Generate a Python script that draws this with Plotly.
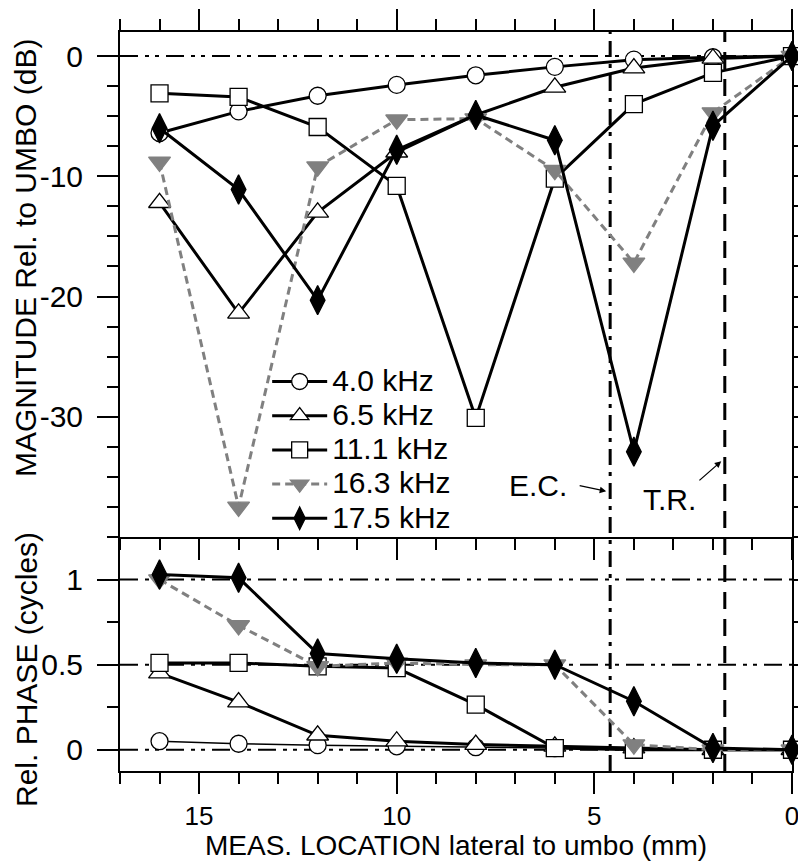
import plotly.graph_objects as go

# ---- data ----
loc_mm = [16, 14, 12, 10, 8, 6, 4, 2, 0]
freq_labels = ["4.0 kHz", "6.5 kHz", "11.1 kHz", "16.3 kHz", "17.5 kHz"]

mag_4_0 = [-6.4, -4.6, -3.3, -2.4, -1.6, -0.9, -0.3, -0.1, 0.0]
mag_6_5 = [-12.2, -21.4, -13.0, -8.0, -4.9, -2.6, -1.0, -0.2, 0.0]
mag_11_1 = [-3.1, -3.4, -5.9, -10.8, -30.1, -10.2, -4.0, -1.4, 0.0]
mag_16_3 = [-8.8, -37.5, -9.2, -5.3, -5.2, -9.5, -17.2, -4.7, 0.0]
mag_17_5 = [-6.0, -11.1, -20.3, -7.8, -4.9, -7.0, -32.9, -5.8, 0.0]

ph_4_0 = [0.05, 0.035, 0.027, 0.02, 0.015, 0.01, 0.005, 0.0, 0.0]
ph_6_5 = [0.45, 0.28, 0.085, 0.05, 0.03, 0.02, 0.01, 0.0, 0.0]
ph_11_1 = [0.51, 0.51, 0.49, 0.48, 0.265, 0.01, 0.0, 0.0, 0.0]
ph_16_3 = [1.0, 0.73, 0.49, 0.51, 0.50, 0.50, 0.03, 0.0, 0.0]
ph_17_5 = [1.03, 1.01, 0.565, 0.535, 0.51, 0.50, 0.285, 0.01, 0.0]

ec_mm = 4.6
tr_mm = 1.7

mag_ticks = [0, -10, -20, -30]
mag_ticktext = ["0", "-10", "-20", "-30"]
ph_ticks = [0, 0.5, 1]
ph_ticktext = ["0", "0.5", "1"]
x_ticks = [0, 5, 10, 15]

FONT = "Liberation Sans, Arial, sans-serif"
FS = 30
FSX = 26
GRAY = "#808080"

styles = [
    dict(symbol="circle", color="white", lc="black", dash="solid", size=17, lw_ph=1.5),
    dict(symbol="triangle-up", color="white", lc="black", dash="solid", size=19, lw_ph=3),
    dict(symbol="square", color="white", lc="black", dash="solid", size=17, lw_ph=3),
    dict(symbol="triangle-down", color=GRAY, lc=GRAY, dash="8px,5px", size=19, lw_ph=3),
    dict(symbol="diamond-tall", color="black", lc="black", dash="solid", size=21, lw_ph=3),
]
mags = [mag_4_0, mag_6_5, mag_11_1, mag_16_3, mag_17_5]
phs = [ph_4_0, ph_6_5, ph_11_1, ph_16_3, ph_17_5]

fig = go.Figure()

for lab, st, m in zip(freq_labels, styles, mags):
    fig.add_trace(go.Scatter(
        x=loc_mm, y=m, mode="lines+markers",
        name='<span style="font-size:%dpx">%s</span>' % (FS, lab),
        line=dict(color=st["lc"], width=3, dash=st["dash"]),
        marker=dict(symbol=st["symbol"], size=st["size"], color=st["color"],
                    line=dict(color="black" if st["color"] == "white" else st["color"], width=1.3)),
        xaxis="x", yaxis="y", cliponaxis=False,
    ))

for lab, st, p in zip(freq_labels, styles, phs):
    fig.add_trace(go.Scatter(
        x=loc_mm, y=p, mode="lines+markers", name=lab, showlegend=False,
        line=dict(color=st["lc"], width=st["lw_ph"], dash=st["dash"]),
        marker=dict(symbol=st["symbol"], size=st["size"], color=st["color"],
                    line=dict(color="black" if st["color"] == "white" else st["color"], width=1.3)),
        xaxis="x2", yaxis="y2", cliponaxis=False,
    ))

split = (763 - 529) / 739.0

axcommon = dict(showgrid=False, zeroline=False, showline=True, linecolor="black",
                linewidth=2, ticks="outside", tickcolor="black", tickwidth=2, ticklen=21,
                tickfont=dict(family=FONT, size=FS, color="black"))

fig.update_layout(
    width=806, height=862,
    margin=dict(l=112, r=22, t=24, b=99, autoexpand=False),
    paper_bgcolor="white", plot_bgcolor="white",
    font=dict(family=FONT, size=FS, color="black"),
    xaxis=dict(**axcommon, domain=[0, 1], range=[17, 0], anchor="y",
               tickmode="array", tickvals=x_ticks, showticklabels=False,
               mirror="allticks",
               minor=dict(dtick=1, tick0=0, ticks="outside", ticklen=11, tickcolor="black", tickwidth=2)),
    yaxis=dict(**axcommon, domain=[split, 1], range=[-40, 2], anchor="x",
               tickmode="array", tickvals=mag_ticks, ticktext=mag_ticktext,
               mirror="allticks", ticklabelstandoff=8,
               minor=dict(dtick=2.5, tick0=0, ticks="outside", ticklen=11, tickcolor="black", tickwidth=2)),
    xaxis2=dict(**{k: v for k, v in axcommon.items() if k != "tickfont"},
                tickfont=dict(family=FONT, size=FSX, color="black"),
                domain=[0, 1], range=[17, 0], anchor="y2",
                tickmode="array", tickvals=x_ticks, mirror=False, ticklabelstandoff=0,
                minor=dict(dtick=1, tick0=0, ticks="outside", ticklen=11, tickcolor="black", tickwidth=2)),
    yaxis2=dict(**axcommon, domain=[0, split], range=[-0.125, 1.25], anchor="x2",
                tickmode="array", tickvals=ph_ticks, ticktext=ph_ticktext,
                mirror="allticks", ticklabelstandoff=8,
                minor=dict(dtick=0.25, tick0=0, ticks="outside", ticklen=11, tickcolor="black", tickwidth=2)),
    legend=dict(x=0.219, y=0.557, xanchor="left", yanchor="top",
                bgcolor="rgba(0,0,0,0)", font=dict(family=FONT, size=24),
                itemwidth=55, tracegroupgap=0),
    showlegend=True,
)

# reference lines
hdash = "18px,7px,4px,6px,4px,7px"
fig.add_shape(type="line", xref="x domain", yref="y", x0=0, x1=1, y0=0, y1=0,
              line=dict(color="black", width=2, dash=hdash), layer="below")
for v in ph_ticks:
    fig.add_shape(type="line", xref="x2 domain", yref="y2", x0=0, x1=1, y0=v, y1=v,
                  line=dict(color="black", width=2, dash=hdash), layer="below")
fig.add_shape(type="line", xref="x", yref="paper", x0=ec_mm, x1=ec_mm, y0=0, y1=1,
              line=dict(color="black", width=3, dash="16px,7px,4px,7px"), layer="below")
fig.add_shape(type="line", xref="x", yref="paper", x0=tr_mm, x1=tr_mm, y0=0, y1=1,
              line=dict(color="black", width=3, dash="17px,10px"), layer="below")

# labels
fig.add_annotation(x=6.42, y=-35.7, xref="x", yref="y", text="E.C.", showarrow=False,
                   font=dict(family=FONT, size=FS))
fig.add_annotation(x=4.70, y=-36.2, ax=5.41, ay=-35.7, xref="x", yref="y", axref="x", ayref="y",
                   text="", showarrow=True, arrowhead=2, arrowsize=1, arrowwidth=1.3, arrowcolor="black")
fig.add_annotation(x=3.11, y=-36.9, xref="x", yref="y", text="T.R.", showarrow=False,
                   font=dict(family=FONT, size=FS))
fig.add_annotation(x=1.79, y=-33.7, ax=2.38, ay=-35.4, xref="x", yref="y", axref="x", ayref="y",
                   text="", showarrow=True, arrowhead=2, arrowsize=1, arrowwidth=1.3, arrowcolor="black")

# axis titles
fig.add_annotation(x=(18 - 112) / 672.0, y=(763 - 250) / 739.0, xref="paper", yref="paper",
                   text="MAGNITUDE Rel. to UMBO (dB)", textangle=-90, showarrow=False,
                   xanchor="center", yanchor="middle", font=dict(family=FONT, size=FS))
fig.add_annotation(x=(18 - 112) / 672.0, y=(763 - 662) / 739.0, xref="paper", yref="paper",
                   text="Rel. PHASE (cycles)", textangle=-90, showarrow=False,
                   xanchor="center", yanchor="middle", font=dict(family=FONT, size=FS))
fig.add_annotation(x=(448 - 112) / 672.0, y=(763 - 838) / 739.0, xref="paper", yref="paper",
                   text="MEAS. LOCATION lateral to umbo (mm)", showarrow=False,
                   xanchor="center", yanchor="middle", font=dict(family=FONT, size=FSX + 2))

fig.write_html("out.html")
